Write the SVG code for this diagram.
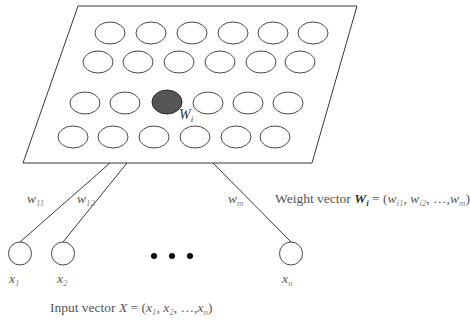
<svg xmlns="http://www.w3.org/2000/svg" width="470" height="322" viewBox="0 0 470 322">
<style>
.n{fill:#fff;stroke:#333;stroke-width:0.9}
.c{stroke:#222;stroke-width:0.9;fill:none}
text{font-family:"Liberation Serif","DejaVu Serif",serif;font-size:13.5px;fill:#555}
.i{font-style:italic}
.s{font-size:9px;font-style:italic;fill:#888}
</style>
<rect width="470" height="322" fill="#fff"/>
<g id="map">
<polygon points="78,6 357,6 312,163 23,163" class="c"/>
<g id="row1">
<ellipse cx="110" cy="33" rx="15" ry="11" class="n"/><ellipse cx="151" cy="33" rx="15" ry="11" class="n"/><ellipse cx="192" cy="33" rx="15" ry="11" class="n"/><ellipse cx="233" cy="33" rx="15" ry="11" class="n"/><ellipse cx="273" cy="33" rx="15" ry="11" class="n"/><ellipse cx="313" cy="33" rx="15" ry="11" class="n"/>
</g>
<g id="row2">
<ellipse cx="98" cy="62" rx="15" ry="11" class="n"/><ellipse cx="138" cy="62" rx="15" ry="11" class="n"/><ellipse cx="179" cy="62" rx="15" ry="11" class="n"/><ellipse cx="220" cy="62" rx="15" ry="11" class="n"/><ellipse cx="261" cy="62" rx="15" ry="11" class="n"/><ellipse cx="300" cy="62" rx="15" ry="11" class="n"/>
</g>
<g id="row3">
<ellipse cx="85" cy="103" rx="15" ry="11" class="n"/><ellipse cx="125" cy="103" rx="15" ry="11" class="n"/><ellipse cx="208" cy="103" rx="15" ry="11" class="n"/><ellipse cx="248" cy="103" rx="15" ry="11" class="n"/><ellipse cx="288" cy="103" rx="15" ry="11" class="n"/>
</g>
<g id="winner">
<ellipse cx="167" cy="102" rx="15" ry="12" fill="#555" stroke="#222" stroke-width="0.9"/>
<text x="179" y="119" class="i" style="font-size:14px;fill:#333">W<tspan class="s" dy="3" style="fill:#333">i</tspan></text>
</g>
<g id="row4">
<ellipse cx="73" cy="137" rx="15" ry="11" class="n"/><ellipse cx="113" cy="137" rx="15" ry="11" class="n"/><ellipse cx="154" cy="137" rx="15" ry="11" class="n"/><ellipse cx="195" cy="137" rx="15" ry="11" class="n"/><ellipse cx="236" cy="137" rx="15" ry="11" class="n"/><ellipse cx="275" cy="137" rx="15" ry="11" class="n"/>
</g>
</g>
<g id="connectors">
<line x1="110" y1="163" x2="20" y2="242" class="c"/>
<line x1="127" y1="163" x2="63" y2="242" class="c"/>
<line x1="213" y1="163" x2="291" y2="242" class="c"/>
</g>
<g id="x1"><circle cx="20" cy="253.5" r="11.5" class="n"/><text x="9" y="283" class="i">x<tspan class="s" dy="3">1</tspan></text></g>
<g id="x2"><circle cx="63" cy="253.5" r="11.5" class="n"/><text x="57" y="283" class="i">x<tspan class="s" dy="3">2</tspan></text></g>
<g id="dots"><circle cx="154" cy="256" r="3" fill="#000"/><circle cx="172" cy="256" r="3" fill="#000"/><circle cx="190" cy="256" r="3" fill="#000"/></g>
<g id="xn"><circle cx="291" cy="253.5" r="11.5" class="n"/><text x="282" y="283" class="i">x<tspan class="s" dy="3">n</tspan></text></g>
<g id="labels">
<text x="27" y="203" class="i">w<tspan class="s" dy="3">11</tspan></text>
<text x="77" y="203" class="i">w<tspan class="s" dy="3">12</tspan></text>
<text x="228" y="203" class="i">w<tspan class="s" dy="3">m</tspan></text>
<text x="275" y="203">Weight vector <tspan class="i" font-weight="bold" style="fill:#333">W</tspan><tspan font-weight="bold" class="s" dy="3" style="fill:#333">i</tspan><tspan dy="-3"> = (</tspan><tspan class="i">w</tspan><tspan class="s" dy="3">i1</tspan><tspan dy="-3">, </tspan><tspan class="i">w</tspan><tspan class="s" dy="3">i2</tspan><tspan dy="-3">, …,</tspan><tspan class="i">w</tspan><tspan class="s" dy="3">m</tspan><tspan dy="-3">)</tspan></text>
<text x="50" y="312">Input vector <tspan class="i">X</tspan> = (<tspan class="i">x</tspan><tspan class="s" dy="3">1</tspan><tspan dy="-3">, </tspan><tspan class="i">x</tspan><tspan class="s" dy="3">2</tspan><tspan dy="-3">, …,</tspan><tspan class="i">x</tspan><tspan class="s" dy="3">n</tspan><tspan dy="-3">)</tspan></text>
</g>
</svg>
